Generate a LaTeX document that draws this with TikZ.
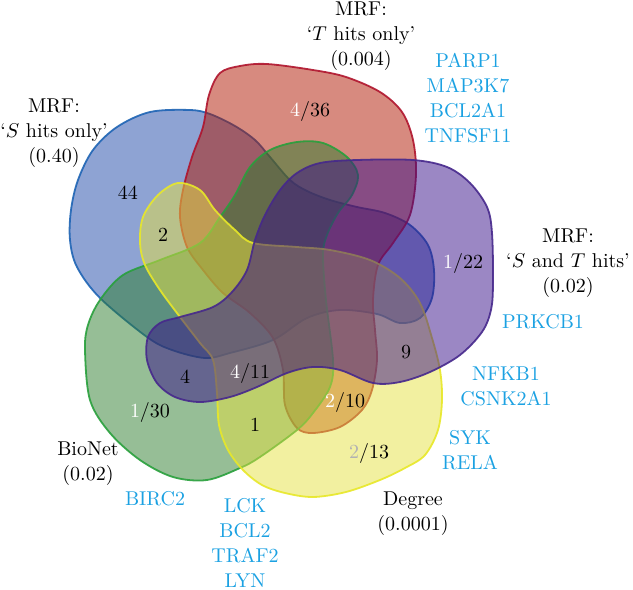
\documentclass[tikz,border=0pt]{standalone}
\usepackage{tikz}
\definecolor{vblueF}{RGB}{29,71,167}
\definecolor{vblueD}{RGB}{30,100,180}
\definecolor{vredF}{RGB}{175,22,0}
\definecolor{vredD}{RGB}{175,20,45}
\definecolor{vgreenF}{RGB}{45,125,45}
\definecolor{vgreenD}{RGB}{40,160,60}
\definecolor{vyellowF}{RGB}{229,225,65}
\definecolor{vyellowD}{RGB}{232,232,40}
\definecolor{vpurpleF}{RGB}{55,15,137}
\definecolor{vpurpleD}{RGB}{70,40,140}
\definecolor{geneblue}{RGB}{27,161,226}
\tikzset{
  vset/.style={fill opacity=0.5, draw opacity=0.9, line width=0.9pt},
  lbl/.style={align=center, font=\fontsize{10}{12.5}\selectfont, inner sep=0pt},
  gene/.style={lbl, text=geneblue},
  num/.style={lbl}
}
\begin{document}
\begin{tikzpicture}[x=0.5pt,y=-0.5pt]
\useasboundingbox (0,0) rectangle (633,590);
% blue: S hits only
\filldraw[vset, fill=vblueF, draw=vblueD] plot[smooth cycle, tension=0.55] coordinates {
(150,112) (190,110) (210,114) (235,126) (255,140) (270,157) (290,180) (307,191) (330,200) (357,207) (385,213) (410,225) (428,245) (434,270) (432,298) (420,318) (400,323) (377,314) (340,310) (307,318) (273,340) (230,353) (205,358) (172,350) (147,337) (100,298) (77,267) (70,240) (71,210) (78,180) (93,150) (117,127)};
% red: T hits only
\filldraw[vset, fill=vredF, draw=vredD] plot[smooth cycle, tension=0.55] coordinates {
(220,73) (240,66) (267,64) (313,70) (346,77) (380,92) (402,112) (413,140) (416,175) (410,215) (393,243) (378,265) (373,300) (375,330) (377,360) (372,390) (362,410) (340,427) (313,433) (297,428) (285,405) (283,370) (273,338) (250,313) (223,293) (203,270) (187,247) (180,217) (183,190) (192,157) (203,127) (209,95)};
% green: BioNet
\filldraw[vset, fill=vgreenF, draw=vgreenD] plot[smooth cycle, tension=0.55] coordinates {
(297,142) (323,143) (347,157) (358,175) (352,195) (338,213) (327,235) (323,255) (326,300) (333,360) (330,387) (313,413) (297,430) (260,457) (240,468) (207,480) (173,477) (140,460) (110,433) (90,400) (85,350) (88,325) (100,300) (123,275) (160,260) (200,243) (220,217) (235,195) (250,167) (270,150)};
% yellow: Degree
\filldraw[vset, fill=vyellowF, draw=vyellowD] plot[smooth cycle, tension=0.55] coordinates {
(178,183) (200,190) (215,210) (235,230) (253,243) (297,247) (330,250) (370,260) (400,278) (420,303) (432,338) (440,370) (442,400) (438,430) (425,455) (405,468) (380,480) (346,492) (313,497) (285,493) (262,485) (243,470) (228,450) (219,425) (217,393) (213,360) (200,343) (180,317) (160,290) (145,265) (140,243) (143,217) (158,195)};
% purple: S and T hits
\filldraw[vset, fill=vpurpleF, draw=vpurpleD] plot[smooth cycle, tension=0.55] coordinates {
(297,173) (320,163) (357,160) (413,160) (447,167) (470,183) (487,207) (492,233) (493,283) (491,310) (482,332) (460,355) (430,372) (400,382) (373,383) (340,370) (313,367) (287,373) (257,387) (230,397) (200,402) (175,397) (157,383) (147,360) (148,337) (160,323) (180,317) (213,307) (232,292) (247,270) (255,240) (265,215) (280,190)};
% set labels
\node[lbl] (lS) at (54,133) {MRF:\\‘$S$ hits only’\\(0.40)};
\node[lbl] (lT) at (361,36) {MRF:\\‘$T$ hits only’\\(0.004)};
\node[lbl] (lST) at (568,263) {MRF:\\‘$S$ and $T$ hits’\\(0.02)};
\node[lbl] (lB) at (88,464) {BioNet\\(0.02)};
\node[lbl] (lD) at (413,514) {Degree\\(0.0001)};
% gene labels
\node[gene] (g1) at (468,98) {PARP1\\MAP3K7\\BCL2A1\\TNFSF11};
\node[gene] (g2) at (543,322) {PRKCB1};
\node[gene] (g3) at (506,386) {NFKB1\\CSNK2A1};
\node[gene] (g4) at (470,450) {SYK\\RELA};
\node[gene] (g5) at (155,499) {BIRC2};
\node[gene] (g6) at (245,543) {LCK\\BCL2\\TRAF2\\LYN};
% region counts
\node[num] (n44) at (128,193) {44};
\node[num] (n2) at (163,235) {2};
\node[num] (n436) at (310,111) {\textcolor{white}{4}/36};
\node[num] (n122) at (463,263) {\textcolor{white}{1}/22};
\node[num] (n9) at (406,352) {9};
\node[num] (n210) at (345,402) {\textcolor{white}{2}/10};
\node[num] (n213) at (369,453) {\textcolor{gray!60}{2}/13};
\node[num] (n1) at (255,425) {1};
\node[num] (n411) at (250,373) {\textcolor{white}{4}/11};
\node[num] (n4) at (185,377) {4};
\node[num] (n130) at (150,412) {\textcolor{white}{1}/30};
\end{tikzpicture}
\end{document}
